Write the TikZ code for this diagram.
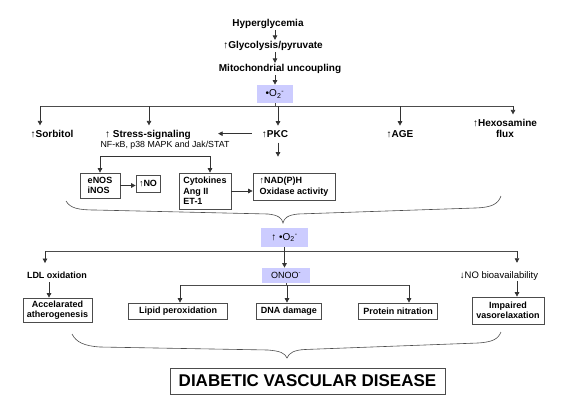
\documentclass[tikz,border=0pt]{standalone}
\usepackage{fontspec}
\setmainfont{Liberation Sans}
\usetikzlibrary{arrows.meta}
\definecolor{radfill}{RGB}{204,204,255}
\newcommand{\superox}{\textbullet O\textsubscript{2}\textsuperscript{-}}

\begin{document}
\begin{tikzpicture}[x = 1pt, y = -1pt, line width = 0.7pt]
    \tikzstyle{lbl}=[font=\bfseries\fontsize{10}{11}\selectfont, anchor=base, inner sep=1pt, align=center]
    \tikzstyle{lblsm}=[font=\bfseries\fontsize{9}{10.5}\selectfont, anchor=base, inner sep=1pt]
    \tikzstyle{note}=[font=\fontsize{8.8}{10}\selectfont, anchor=base, inner sep=0pt]
    \tikzstyle{box}=[draw=black!70, font=\bfseries\fontsize{9}{10.5}\selectfont, inner sep=0pt, align=center]
    \tikzstyle{radical}=[fill=radfill, font=\fontsize{10}{11}\selectfont, inner sep=0pt]
    \tikzstyle{arr}=[draw=black!80, -{Triangle[length=4.5pt, width=4.5pt]}]
    \useasboundingbox (0,0) rectangle (574,405);

    \node[lbl] (hyp) at (268,26.5) {Hyperglycemia};
    \node[lbl] (gly) at (273,48.5) {↑Glycolysis/pyruvate};
    \node[lbl] (mito) at (280,71.5) {Mitochondrial uncoupling};
    \node[radical, minimum width=36pt, minimum height=18pt] (ox) at (275,94) {\superox};

    \node[lbl] (sorb) at (52,137) {↑Sorbitol};
    \node[lbl] (stress) at (148,137) {↑ Stress-signaling};
    \node[note] (nf) at (165,147) {NF-κB, p38 MAPK and Jak/STAT};
    \node[lbl] (pkc) at (275,137) {↑PKC};
    \node[lbl] (age) at (400,137) {↑AGE};
    \node[lbl] (hex) at (505,137) {↑Hexosamine\\flux};

    \node[box, align=left, minimum width=40pt, minimum height=25pt] (enos) at (100,185.5) {eNOS\\iNOS};
    \node[box, minimum width=24pt, minimum height=17pt] (no) at (148,183.5) {↑NO};
    \node[box, align=left, minimum width=52pt, minimum height=36pt] (cyto) at (205,191) {Cytokines\\Ang II\\ET-1};
    \node[box, align=left, minimum width=82pt, minimum height=27pt] (nad) at (294,186.5) {↑NAD(P)H\\Oxidase activity};

    \node[radical, minimum width=47pt, minimum height=19pt] (ox2) at (284.5,237.5) {↑ \superox};
    \node[radical, font=\fontsize{9}{10}\selectfont, minimum width=48pt, minimum height=15pt] (onoo) at (286,275.5) {ONOO\textsuperscript{-}};
    \node[lblsm] (ldl) at (57,278) {LDL oxidation};
    \node[note, font=\fontsize{9.5}{11}\selectfont, inner sep=1pt] (nobio) at (499,278) {↓NO bioavailability};
    \node[box, minimum width=69pt, minimum height=24pt] (ather) at (57.5,310) {Accelarated\\atherogenesis};
    \node[box, minimum width=99pt, minimum height=16pt] (lipid) at (178,311) {Lipid peroxidation};
    \node[box, minimum width=65pt, minimum height=16pt] (dna) at (289,311) {DNA damage};
    \node[box, minimum width=79pt, minimum height=16pt] (prot) at (398,311) {Protein nitration};
    \node[box, minimum width=72pt, minimum height=27pt] (impair) at (508,310.5) {Impaired\\vasorelaxation};
    \node[box, font=\bfseries\fontsize{17}{20}\selectfont, minimum width=275pt, minimum height=26pt] (dvd) at (307.5,381) {DIABETIC VASCULAR DISEASE};

    \draw[arr] (ox |- hyp.south) -- (ox |- gly.north);
    \draw[arr] (ox |- gly.south) -- (ox |- mito.north);
    \draw[arr] (ox |- mito.south) -- (ox.north);

    \foreach \x/\name in {40/sorb, 149/stress, 278/pkc, 400/age, 513/hex}
        \coordinate (t-\name) at (\x,106);
    \draw[black!70] (t-sorb) -- (t-hex);
    \draw[black!70] (ox.south) -- (ox.south |- t-pkc);
    \foreach \name in {sorb, stress, pkc, age, hex}
        \draw[arr, shorten >=3pt] (t-\name) -- (t-\name |- \name.north);
    \draw[arr, shorten <=9pt, shorten >=26pt] (pkc.west) -- (pkc.west -| stress.east);
    \draw[arr, shorten <=4pt, shorten >=16pt] (t-pkc |- pkc.south) -- (t-pkc |- nad.north);

    \coordinate (s-bus) at (150,156);
    \draw[arr] (s-bus) -| (enos.north);
    \draw[arr] (s-bus) -| ([xshift=5pt]cyto.north);
    \draw[arr] (enos.east) -- (enos.east -| no.west);
    \draw[arr] (cyto.east) -- (cyto.east -| nad.west);

    \draw[black!70, line width=0.6pt] (66,201) .. controls (70,208) and (78,210) .. (95,210) -- (268,214)
        .. controls (278,215) and (282,218) .. (283,223) .. controls (284,218) and (288,215) .. (298,214)
        -- (475,208) .. controls (492,207.5) and (498,204) .. (501,196);

    \coordinate (l-ldl) at (45,251);
    \coordinate (l-nobio) at (517,251);
    \draw[black!70] (l-ldl) -- (l-nobio);
    \draw[arr] (ox2.south) -- (ox2.south |- onoo.north);
    \foreach \name in {ldl, nobio}
        \draw[arr, shorten >=7pt] (l-\name) -- (l-\name |- \name.north);
    \draw[arr, shorten <=3pt] ([xshift=-8pt]ldl.south) -- ([xshift=-8pt]ldl.south |- ather.north);
    \draw[arr] (l-nobio |- nobio.south) -- (l-nobio |- impair.north);

    \foreach \x/\name in {180/lipid, 287/dna, 409/prot}
        \coordinate (o-\name) at (\x,285);
    \draw[black!70] (o-lipid) -- (o-prot);
    \draw[black!70] (onoo.south) -- (onoo.south |- o-dna);
    \foreach \name in {lipid, dna, prot}
        \draw[arr] (o-\name) -- (o-\name |- \name.north);

    \draw[black!70, line width=0.6pt] (72,334) .. controls (76,342) and (84,346) .. (100,347) -- (268,350)
        .. controls (280,351) and (285,353) .. (287,358) .. controls (289,353) and (294,350) .. (305,349.5)
        -- (478,343) .. controls (493,342) and (498,339) .. (501,332);
\end{tikzpicture}
\end{document}
